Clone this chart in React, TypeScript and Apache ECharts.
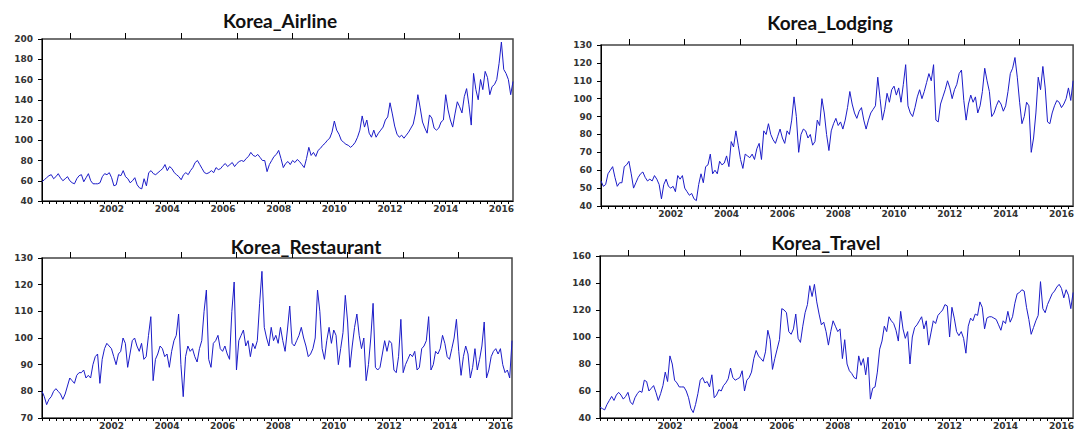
import React, { useEffect, useRef } from "react";
import * as echarts from "echarts";

// Monthly observations, 2000M01 .. 2016M12
const months: string[] = [];
for (let y = 2000; y <= 2016; y++) {
  for (let m = 1; m <= 12; m++) months.push(`${y}M${String(m).padStart(2, "0")}`);
}

const titles = ["Korea_Airline", "Korea_Lodging", "Korea_Restaurant", "Korea_Travel"];

const airline = [
  59, 61, 63, 65, 66, 62, 64, 67, 63, 60, 62, 64,
  60, 58, 57, 62, 65, 66, 59, 63, 67, 60, 57, 57,
  57, 58, 64, 67, 66, 68, 63, 55, 56, 66, 65, 70,
  64, 62, 58, 60, 63, 56, 53, 52, 62, 55, 68, 70,
  67, 66, 68, 70, 72, 76, 70, 74, 72, 68, 66, 64,
  61, 66, 68, 66, 70, 73, 78, 80, 76, 72, 68, 67,
  68, 70, 68, 73, 71, 72, 75, 77, 74, 76, 78, 74,
  77, 79, 80, 79, 82, 84, 88, 85, 84, 86, 83, 80,
  80, 69, 76, 80, 84, 86, 90, 82, 73, 77, 79, 76,
  80, 78, 81, 79, 76, 73, 82, 93, 85, 88, 84, 90,
  92, 95, 97, 100, 102, 108, 119, 110, 106, 100, 98, 96,
  95, 93, 95, 98, 103, 110, 124, 113, 120, 107, 103, 110,
  103, 107, 110, 113, 120, 123, 137, 126, 114, 106, 103, 105,
  102, 105, 108, 112, 116, 127, 145, 132, 118, 112, 107, 125,
  122, 112, 110, 112, 118, 120, 145, 130, 120, 113, 126, 138,
  133, 127, 143, 151, 135, 115, 166, 150, 140, 160, 150, 168,
  162, 145, 153, 155, 160, 176, 197, 170, 166, 160, 145, 158,
];

const lodging = [
  54, 51, 52, 58, 60, 62, 56, 51, 53, 53, 62, 63,
  65, 58, 50, 53, 56, 58, 59, 56, 54, 55, 54, 57,
  55, 52, 44, 52, 55, 51, 50, 51, 48, 57, 55, 57,
  50, 48, 46, 47, 44, 43, 52, 58, 53, 62, 63, 69,
  58, 60, 58, 65, 63, 64, 68, 62, 76, 73, 82, 74,
  66, 61, 69, 68, 67, 69, 66, 72, 75, 66, 82, 80,
  86, 80, 77, 75, 79, 83, 78, 75, 82, 80, 88, 101,
  90, 70, 80, 83, 82, 78, 80, 74, 76, 88, 85, 100,
  92, 80, 71, 82, 86, 89, 85, 87, 83, 88, 95, 104,
  97, 92, 89, 93, 95, 88, 83, 88, 92, 94, 96, 112,
  100, 88, 94, 103, 98, 105, 107, 102, 106, 98, 108, 119,
  96, 92, 90, 95, 101, 105, 100, 104, 109, 114, 110, 119,
  88, 87, 97, 101, 105, 110, 106, 100, 105, 108, 114, 116,
  99, 88, 97, 102, 98, 101, 92, 96, 104, 117, 110, 104,
  90, 92, 96, 99, 97, 93, 96, 104, 114, 117, 123, 112,
  98, 86, 90, 98, 96, 70, 78, 92, 112, 105, 118, 106,
  87, 86, 92, 96, 99, 98, 95, 97, 100, 106, 99, 110,
];

const restaurant = [
  80, 78, 75, 77, 78, 80, 81, 80, 79, 77, 79, 82,
  85, 84, 83, 86, 87, 87, 88, 85, 86, 85, 90, 93,
  94, 83, 92, 96, 98, 97, 96, 93, 90, 94, 95, 100,
  98, 89, 94, 99, 100, 97, 95, 98, 92, 93, 101, 108,
  84, 92, 94, 97, 96, 93, 94, 89, 95, 99, 101, 109,
  90, 78, 93, 97, 95, 96, 93, 91, 96, 99, 110, 118,
  92, 89, 98, 99, 101, 96, 95, 97, 94, 92, 110, 121,
  88, 99, 101, 103, 97, 99, 93, 98, 96, 99, 113, 125,
  104, 100, 97, 104, 99, 101, 98, 104, 99, 95, 103, 112,
  98, 97, 99, 101, 104, 100, 97, 93, 94, 96, 100, 118,
  110, 96, 92, 99, 104, 98, 103, 101, 90, 96, 102, 116,
  106, 89, 97, 104, 109, 101, 96, 100, 84, 90, 100, 113,
  89, 88, 89, 94, 99, 95, 99, 98, 88, 87, 93, 107,
  87, 90, 92, 94, 93, 95, 88, 89, 96, 97, 99, 108,
  88, 90, 95, 94, 96, 101, 98, 93, 92, 96, 100, 107,
  95, 86, 93, 97, 94, 85, 89, 96, 88, 92, 97, 106,
  85, 88, 93, 95, 96, 94, 96, 90, 87, 88, 85, 99,
];

const travel = [
  48, 47, 46, 50, 53, 56, 53, 57, 59, 57, 54, 56,
  59, 52, 50, 55, 58, 60, 59, 68, 67, 60, 62, 64,
  59, 53, 58, 64, 74, 67, 86, 80, 68, 66, 63, 63,
  63, 60, 55, 47, 44, 50, 58, 68, 70, 66, 67, 63,
  72, 55, 57, 61, 60, 64, 66, 69, 77, 70, 68, 69,
  70, 75, 60, 68, 70, 74, 84, 90, 86, 84, 82, 89,
  105, 98, 76, 84, 91, 98, 121, 120, 118, 104, 102, 106,
  117, 99, 96, 108, 118, 124, 138, 130, 139, 126, 117, 109,
  111, 104, 94, 104, 112, 108, 104, 106, 84, 98, 80, 75,
  73, 70, 69, 86, 79, 84, 72, 85, 54, 62, 63, 74,
  91, 97, 108, 104, 115, 112, 110, 105, 97, 119, 106, 99,
  104, 80, 100, 107, 109, 112, 115, 106, 112, 94, 103, 112,
  110, 116, 118, 120, 124, 123, 100, 122, 114, 104, 101, 104,
  99, 88, 108, 114, 112, 117, 116, 126, 122, 106, 114, 115,
  115, 114, 113, 109, 105, 112, 110, 119, 111, 115, 125, 132,
  133, 135, 134, 122, 113, 102, 107, 112, 116, 141, 121, 118,
  124, 128, 132, 134, 137, 139, 136, 129, 135, 131, 121, 133,
];

const seriesData = [airline, lodging, restaurant, travel];
const yMin = [40, 40, 70, 40];
const yMax = [200, 130, 130, 160];
const yStep = [20, 10, 10, 20];

// layout (pixels)
const layout = [
  { left: 42, top: 39, width: 471, height: 162, tx: 280, ty: 20 },
  { left: 601, top: 45, width: 473, height: 161, tx: 830, ty: 22 },
  { left: 42, top: 258, width: 470, height: 160, tx: 306, ty: 246 },
  { left: 600, top: 256, width: 474, height: 162, tx: 826, ty: 242 },
];

const LINE = "#1c1cc8";
const labelFont = { fontFamily: "DejaVu Sans", fontSize: 9, fontWeight: "bold" as const, color: "#333" };

export default function App() {
  const ref = useRef<HTMLDivElement>(null);
  useEffect(() => {
    if (!ref.current) return;
    const chart = echarts.init(ref.current, undefined, { renderer: "svg" });
    const grid: any[] = [];
    const xAxis: any[] = [];
    const yAxis: any[] = [];
    const series: any[] = [];
    const graphic: any[] = [];
    layout.forEach((g, k) => {
      grid.push({
        left: g.left, top: g.top, width: g.width, height: g.height,
        show: true, borderColor: "#444", borderWidth: 1.5, backgroundColor: "#fff",
      });
      xAxis.push({
        type: "category", gridIndex: k, data: months, boundaryGap: false,
        axisLine: { show: true, lineStyle: { color: "#000", width: 1 } },
        axisTick: { show: true, interval: (i: number) => i % 3 === 0, length: 3, lineStyle: { color: "#000" } },
        axisLabel: {
          show: true, interval: (i: number) => i >= 24 && i % 24 === 6, margin: 3,
          formatter: (v: string) => v.slice(0, 4), ...labelFont,
        },
        splitLine: { show: false },
      });
      xAxis.push({
        type: "category", gridIndex: k, data: months, boundaryGap: false,
        axisLine: { show: false },
        axisTick: { show: true, interval: (i: number) => i % 24 === 12, length: 6, lineStyle: { color: "#000" } },
        axisLabel: { show: false },
        splitLine: { show: false },
      });
      yAxis.push({
        type: "value", gridIndex: k, min: yMin[k], max: yMax[k], interval: yStep[k],
        axisLine: { show: true, lineStyle: { color: "#000", width: 1 } },
        axisTick: { show: true, length: 4, lineStyle: { color: "#000" } },
        axisLabel: { margin: 9, ...labelFont },
        splitLine: { show: false },
      });
      series.push({
        type: "line", xAxisIndex: 2 * k, yAxisIndex: k, data: seriesData[k],
        showSymbol: false, symbol: "none",
        lineStyle: { color: LINE, width: 1 }, itemStyle: { color: LINE },
      });
      graphic.push({
        type: "text", x: g.tx, y: g.ty, z: 10,
        style: {
          text: titles[k], textAlign: "center", textVerticalAlign: "middle",
          font: "bold 19px Lato", fill: "#111",
        },
      });
    });
    chart.setOption({
      animation: false,
      backgroundColor: "#fff",
      grid, xAxis, yAxis, series, graphic,
    });
    return () => chart.dispose();
  }, []);
  return (
    <div
      ref={ref}
      style={{ position: "fixed", left: 0, top: 0, width: 1077, height: 432, background: "#fff" }}
    />
  );
}
